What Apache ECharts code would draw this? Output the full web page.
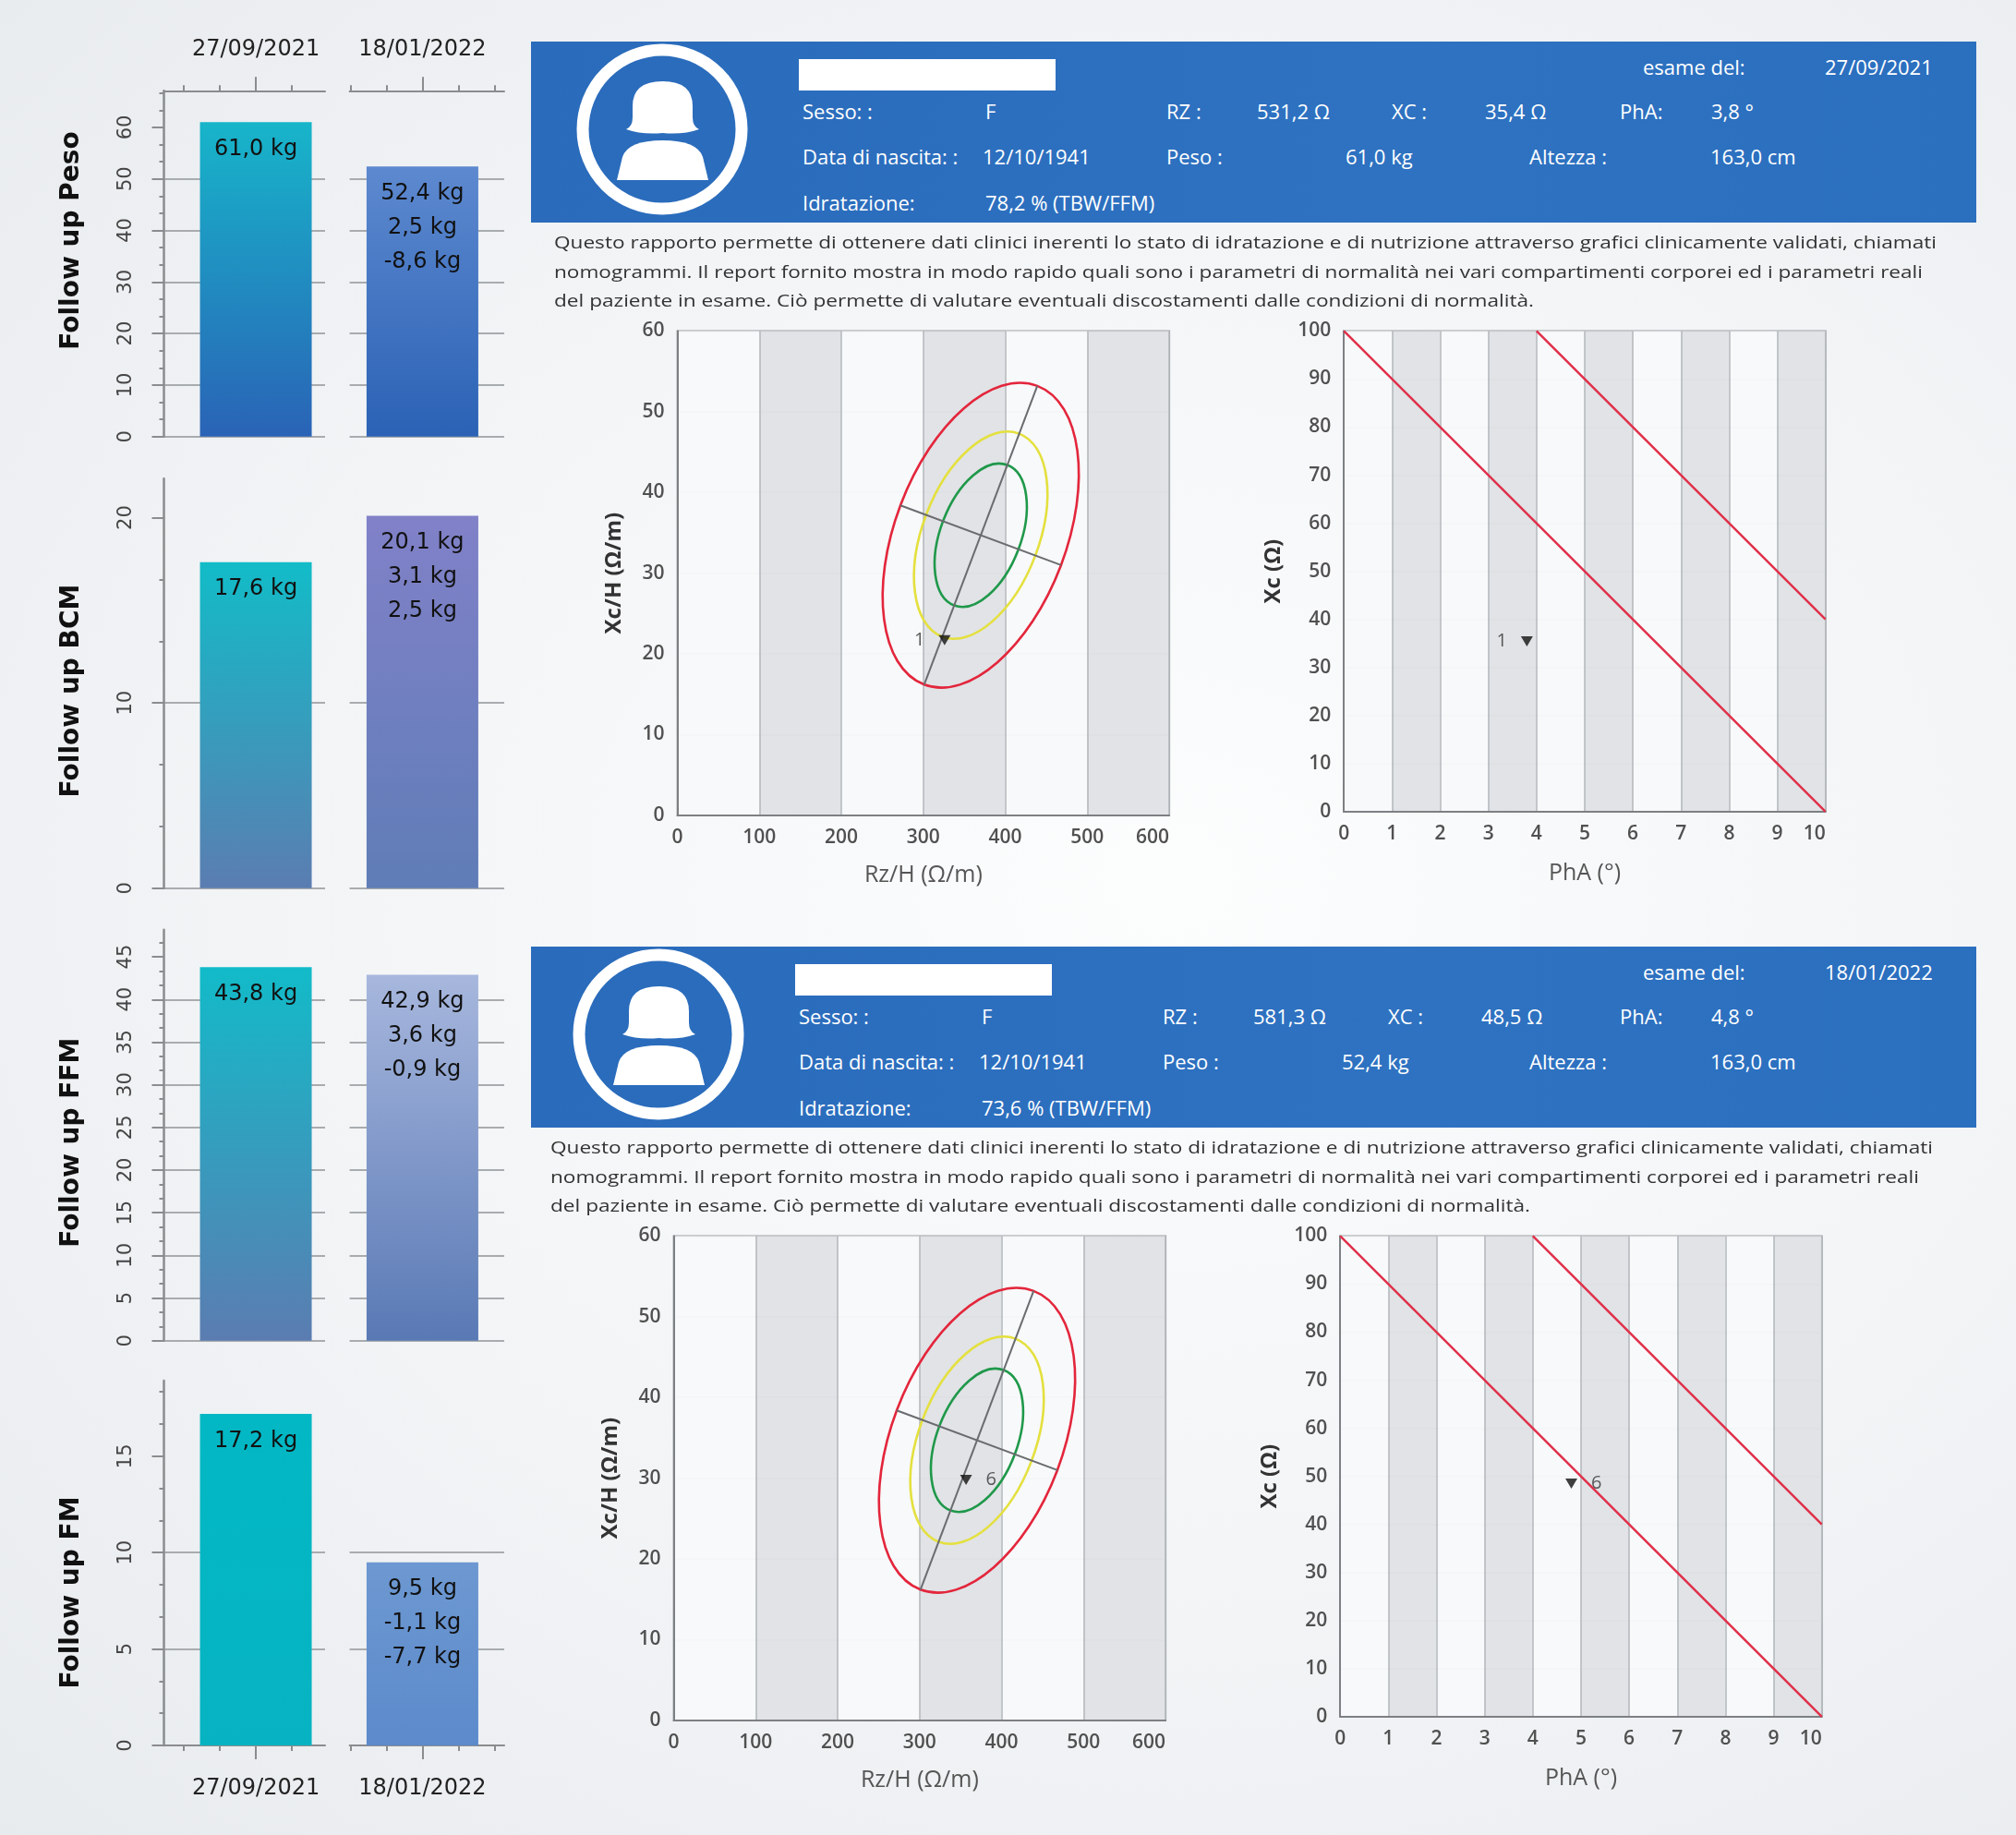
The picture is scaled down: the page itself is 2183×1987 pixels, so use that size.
<!DOCTYPE html>
<html>
<head>
<meta charset="UTF-8">
<title>Follow up BIVA</title>
<style>
  html, body { margin: 0; padding: 0; }
  body {
    position: relative; width: 2183px; height: 1987px; overflow: hidden;
    background: radial-gradient(ellipse at 58% 48%, #fcfdfd 0%, #f2f4f6 55%, #e8ebee 100%);
    font-family: 'Open Sans', sans-serif;
  }
  #main { position: absolute; left: 0; top: 0; width: 2183px; height: 1987px; }
  .head {
    position: absolute; left: 575px; width: 1565px; height: 196px; z-index: 2;
    background: linear-gradient(90deg, #2a6bbb 0%, #2e72c1 60%, #2b6fbf 100%);
    color: #fff; font-size: 22px;
  }
  .head span { position: absolute; white-space: nowrap; line-height: 30px; }
  .head .blank { background: #fff; }
  .desc {
    position: absolute; z-index: 2; color: #333; font-size: 19px; line-height: 30px;
    white-space: nowrap; transform-origin: 0 50%;
  }
</style>
</head>
<body>
<div id="main"></div>
<script src="https://cdn.jsdelivr.net/npm/echarts@6.0.0/dist/echarts.min.js"></script>
<script>
// ---- follow up (bar panels on the left) ----
var dates = ['27/09/2021', '18/01/2022'];
var barTitles = ['Follow up Peso', 'Follow up BCM', 'Follow up FFM', 'Follow up FM'];
var pesoKg = [61.0, 52.4];
var bcmKg = [17.6, 20.1];
var ffmKg = [43.8, 42.9];
var fmKg = [17.2, 9.5];
var diffPrev = [2.5, 3.1, 3.6, -1.1];
var diffFirst = [-8.6, 2.5, -0.9, -7.7];
var axisMax = [67.1, 22.11, 48.18, 18.92];
var pesoTicks = [0, 10, 20, 30, 40, 50, 60];
var bcmTicks = [0, 10, 20];
var ffmTicks = [0, 5, 10, 15, 20, 25, 30, 35, 40, 45];
var fmTicks = [0, 5, 10, 15];

// ---- nomograms ----
var ellipseCenter = [370, 34.7];
var ellipseMajorEnd = [439, 53.2];
var ellipseMinorEnd = [468, 31.0];
var ellipseLevels = [1, 0.68, 0.47];
var ellipseColors = ['#e3263c', '#e4e03e', '#1f984a'];
var majorAxisLine = [[301, 16.2], [439, 53.2]];
var minorAxisLine = [[272, 38.4], [468, 31.0]];
var phaLineLow = [[0, 100], [10, 0]];
var phaLineHigh = [[4, 100], [10, 40]];
var examIds = ['1', '6'];
var rxcPoints = [[325.9, 21.7], [356.6, 29.8]];
var phaPoints = [[3.8, 35.4], [4.8, 48.5]];

// ---- header values ----
var examRz = [531.2, 581.3];
var examXc = [35.4, 48.5];
var examPha = [3.8, 4.8];
var examIdrat = [78.2, 73.6];
var birthDate = '12/10/1941';
var heightCm = 163.0;

var descLines = [
  'Questo rapporto permette di ottenere dati clinici inerenti lo stato di idratazione e di nutrizione attraverso grafici clinicamente validati, chiamati',
  'nomogrammi. Il report fornito mostra in modo rapido quali sono i parametri di normalità nei vari compartimenti corporei ed i parametri reali',
  'del paziente in esame. Ciò permette di valutare eventuali discostamenti dalle condizioni di normalità.'
];
var descRight = [2097, 2082, 1661];

function it1(v) { return v.toFixed(1).replace('.', ','); }
function kg(v) { return it1(v) + ' kg'; }

// ---------- HTML headers ----------
var avatarSvg = '<svg width="190" height="190" viewBox="0 0 190 190">' +
  '<circle cx="95" cy="95" r="86" fill="none" stroke="#fff" stroke-width="13"/>' +
  '<path fill="#fff" d="M56 95 Q63 92 63 82 L63 70 Q63 43 95.5 43 Q128 43 128 70 L128 82 Q128 92 135 95 Q118 101 95.5 99 Q73 101 56 95 Z"/>' +
  '<path fill="#fff" d="M46 150 L52 125 Q58 107 95.5 107 Q133 107 139 125 L145 150 Z"/>' +
  '</svg>';

var blocks = [{ dx: 0, dy: 0 }, { dx: -4, dy: 980 }];

blocks.forEach(function (b, k) {
  var head = document.createElement('div');
  head.className = 'head';
  head.style.top = (45 + b.dy) + 'px';
  var html = '<div style="position:absolute;left:' + (46.7 + b.dx) + 'px;top:0">' + avatarSvg + '</div>';
  html += '<span class="blank" style="left:' + (290 + b.dx) + 'px;top:19px;width:278px;height:34px"></span>';
  var items = [
    ['esame del:', 1204, 27], [dates[k], 1401, 27],
    ['Sesso: :', 294 + b.dx, 75], ['F', 492 + b.dx, 75],
    ['RZ :', 688 + b.dx, 75], [it1(examRz[k]) + ' Ω', 786 + b.dx, 75],
    ['XC :', 932 + b.dx, 75], [it1(examXc[k]) + ' Ω', 1033 + b.dx, 75],
    ['PhA:', 1179, 75], [it1(examPha[k]) + ' °', 1278, 75],
    ['Data di nascita: :', 294 + b.dx, 124], [birthDate, 489 + b.dx, 124],
    ['Peso :', 688 + b.dx, 124], [kg(pesoKg[k]), 882 + b.dx, 124],
    ['Altezza :', 1081, 124], [it1(heightCm) + ' cm', 1277, 124],
    ['Idratazione:', 294 + b.dx, 174], [it1(examIdrat[k]) + ' % (TBW/FFM)', 492 + b.dx, 174]
  ];
  items.forEach(function (t) {
    html += '<span style="left:' + t[1] + 'px;top:' + (t[2] - 15) + 'px">' + t[0] + '</span>';
  });
  head.innerHTML = html;
  document.body.appendChild(head);

  var ctx = document.createElement('canvas').getContext('2d');
  ctx.font = '19px "Open Sans"';
  var left = 600 + b.dx;
  descLines.forEach(function (line, i) {
    var d = document.createElement('div');
    d.className = 'desc';
    d.textContent = line;
    d.style.left = left + 'px';
    d.style.top = (262 + i * 31.5 - 15 + b.dy) + 'px';
    var w = ctx.measureText(line).width;
    d.style.transform = 'scaleX(' + ((descRight[i] + b.dx - left) / w).toFixed(4) + ')';
    document.body.appendChild(d);
  });
});

// ---------- ECharts ----------
var chart = echarts.init(document.getElementById('main'));
var grid = [], xAxis = [], yAxis = [], series = [];

var rows = [
  { values: pesoKg, ticks: pesoTicks, step: 10, top: 98.3, bottom: 472.7, dateAxis: 'top', pad: [0, 0, 0, 50], dateMargin: 33 },
  { values: bcmKg, ticks: bcmTicks, step: 10, top: 518.3, bottom: 961.7, pad: [0, 16, 0, 0] },
  { values: ffmKg, ticks: ffmTicks, step: 5, top: 1006.7, bottom: 1451.7, pad: [0, 16, 0, 0] },
  { values: fmKg, ticks: fmTicks, step: 5, top: 1495, bottom: 1890, dateAxis: 'bottom', pad: [0, 64, 0, 0], dateMargin: 35 }
];
var panels = [
  { left: 177.5, right: 352, min: -2.55, max: 1.92, ticks: [-2, -1, 0, 1] },
  { left: 378.6, right: 546, min: -2.02, max: 2.27, ticks: [-2, -1, 0, 1, 2] }
];
var barColors = [
  [['#17b5ca', '#2a63b6'], ['#5d89cf', '#2b62b5']],
  [['#12bcc8', '#5b7db1'], ['#8181c8', '#5f7db7']],
  [['#12bbc9', '#5b7cb1'], ['#a7b7dd', '#5979b5']],
  [['#02b8c4', '#07b3c2'], ['#6d98d1', '#5c8acb']]
];
var axisGray = '#8a8c8e';

rows.forEach(function (row, r) {
  panels.forEach(function (pan, p) {
    var gi = grid.length;
    grid.push({ left: pan.left, top: row.top, width: pan.right - pan.left, height: row.bottom - row.top });

    var xi = xAxis.length;
    xAxis.push({
      type: 'value', gridIndex: gi, min: pan.min, max: pan.max,
      show: !!row.dateAxis, position: row.dateAxis || 'bottom',
      axisLine: { show: true, onZero: false, lineStyle: { color: axisGray, width: 2 } },
      axisTick: { show: true, customValues: pan.ticks, length: 6, lineStyle: { color: axisGray, width: 2 } },
      axisLabel: { show: false },
      splitLine: { show: false }
    });
    if (row.dateAxis) {
      xAxis.push({
        type: 'value', gridIndex: gi, min: pan.min, max: pan.max, position: row.dateAxis,
        axisLine: { show: false, onZero: false },
        axisTick: { show: true, customValues: [0], length: 15, lineStyle: { color: axisGray, width: 2 } },
        axisLabel: {
          show: true, customValues: [0], margin: row.dateMargin,
          fontFamily: 'DejaVu Sans', fontSize: 24, color: '#222',
          formatter: function () { return dates[p]; }
        },
        splitLine: { show: false }
      });
    }

    var yi = yAxis.length;
    yAxis.push({
      type: 'value', gridIndex: gi, min: 0, max: axisMax[r], interval: row.step,
      name: p === 0 ? barTitles[r] : '', nameLocation: 'middle', nameGap: 86, nameRotate: 90,
      nameTextStyle: { fontFamily: 'DejaVu Sans', fontSize: 28, fontWeight: 'bold', color: '#111', padding: row.pad },
      axisLine: { show: p === 0, onZero: false, lineStyle: { color: axisGray, width: 2.5 } },
      axisTick: { show: p === 0, customValues: row.ticks, length: 13, lineStyle: { color: axisGray, width: 2 } },
      minorTick: { show: p === 0, splitNumber: 3, length: 5, lineStyle: { color: axisGray, width: 2 } },
      axisLabel: {
        show: p === 0, customValues: row.ticks, rotate: 90, margin: 30,
        fontFamily: 'DejaVu Sans', fontSize: 21, color: '#444'
      },
      splitLine: { show: true, showMaxLine: false, lineStyle: { color: '#a9acaf', width: 2 } }
    });

    var c = barColors[r][p];
    series.push({
      type: 'bar', xAxisIndex: xi, yAxisIndex: yi, barWidth: 121,
      data: [[0, row.values[p]]],
      itemStyle: {
        color: { type: 'linear', x: 0, y: 0, x2: 0, y2: 1, colorStops: [{ offset: 0, color: c[0] }, { offset: 1, color: c[1] }] }
      },
      label: {
        show: true, position: 'insideTop', distance: 11,
        fontFamily: 'DejaVu Sans', fontSize: 24, lineHeight: 37, color: '#111',
        formatter: p === 0 ? kg(row.values[0]) : kg(row.values[1]) + '\n' + kg(diffPrev[r]) + '\n' + kg(diffFirst[r])
      }
    });
  });
});

// nomogram axes
function nomoAxis(gi, min, max, step, name, gap, isY) {
  var ax = {
    type: 'value', gridIndex: gi, min: min, max: max, interval: step,
    name: name, nameLocation: 'middle', nameGap: gap,
    nameTextStyle: {
      fontFamily: 'Open Sans', fontSize: isY ? 24 : 25,
      color: isY ? '#333' : '#555', fontWeight: isY ? 'bold' : 'normal'
    },
    axisLine: { show: true, onZero: false, lineStyle: { color: '#7d8083', width: 2 } },
    axisTick: { show: false },
    axisLabel: { margin: 14, fontFamily: 'Open Sans', fontSize: 21, fontWeight: 600, color: '#505050' },
    splitLine: { show: true, lineStyle: { color: '#b3b7bb', width: 1.5 } },
    splitArea: { show: !isY, areaStyle: { color: ['rgba(248,249,250,0.95)', 'rgba(223,225,229,0.95)'] } }
  };
  if (!isY) ax.axisLabel.alignMaxLabel = 'right';
  return ax;
}

function renderEllipse(params, api) {
  var s = api.value(2);
  var idx = api.value(3);
  var c = api.coord(ellipseCenter);
  var a = api.coord([
    ellipseCenter[0] + s * (ellipseMajorEnd[0] - ellipseCenter[0]),
    ellipseCenter[1] + s * (ellipseMajorEnd[1] - ellipseCenter[1])
  ]);
  var m = api.coord([
    ellipseCenter[0] + s * (ellipseMinorEnd[0] - ellipseCenter[0]),
    ellipseCenter[1] + s * (ellipseMinorEnd[1] - ellipseCenter[1])
  ]);
  return {
    type: 'ellipse',
    x: c[0], y: c[1],
    rotation: Math.atan2(c[1] - a[1], a[0] - c[0]),
    shape: {
      cx: 0, cy: 0,
      rx: Math.hypot(a[0] - c[0], a[1] - c[1]),
      ry: Math.hypot(m[0] - c[0], m[1] - c[1])
    },
    style: { fill: 'none', stroke: ellipseColors[idx], lineWidth: 2.6 }
  };
}

function markerSeries(xi, yi, pt, k) {
  return {
    type: 'scatter', xAxisIndex: xi, yAxisIndex: yi, data: [pt],
    symbol: 'triangle', symbolRotate: 180, symbolSize: [13, 11], z: 6,
    itemStyle: { color: '#111' },
    label: {
      show: true, formatter: examIds[k], position: k === 0 ? 'left' : 'right', distance: 15,
      fontFamily: 'Open Sans', fontSize: 20, color: '#333'
    }
  };
}

blocks.forEach(function (b, k) {
  var g = grid.length;
  grid.push({ left: 733.6 + b.dx, top: 358.4 + b.dy, width: 532.5, height: 524.5, show: true, borderColor: '#9a9da1', borderWidth: 2 });
  xAxis.push(nomoAxis(g, 0, 600, 100, 'Rz/H (Ω/m)', 52, false));
  yAxis.push(nomoAxis(g, 0, 60, 10, 'Xc/H (Ω/m)', 56, true));
  var xi = xAxis.length - 1, yi = yAxis.length - 1;
  series.push({
    type: 'custom', xAxisIndex: xi, yAxisIndex: yi, silent: true, z: 3,
    renderItem: renderEllipse, encode: { x: 0, y: 1 },
    data: ellipseLevels.map(function (s, i) { return [ellipseCenter[0], ellipseCenter[1], s, i]; })
  });
  [majorAxisLine, minorAxisLine].forEach(function (d) {
    series.push({
      type: 'line', xAxisIndex: xi, yAxisIndex: yi, data: d, symbol: 'none', silent: true, z: 4,
      lineStyle: { color: '#6a6c70', width: 2 }
    });
  });
  series.push(markerSeries(xi, yi, rxcPoints[k], k));

  var g2 = grid.length;
  grid.push({ left: 1455.2 + b.dx, top: 358.4 + b.dy, width: 521.5, height: 520.4, show: true, borderColor: '#9a9da1', borderWidth: 2 });
  xAxis.push(nomoAxis(g2, 0, 10, 1, 'PhA (°)', 55, false));
  yAxis.push(nomoAxis(g2, 0, 100, 10, 'Xc (Ω)', 64, true));
  var xi2 = xAxis.length - 1, yi2 = yAxis.length - 1;
  [phaLineLow, phaLineHigh].forEach(function (d) {
    series.push({
      type: 'line', xAxisIndex: xi2, yAxisIndex: yi2, data: d, symbol: 'none', silent: true, z: 4,
      lineStyle: { color: '#e0304a', width: 2.5 }
    });
  });
  series.push(markerSeries(xi2, yi2, phaPoints[k], k));
});

chart.setOption({
  animation: false,
  backgroundColor: 'transparent',
  grid: grid,
  xAxis: xAxis,
  yAxis: yAxis,
  series: series
});
</script>
</body>
</html>
